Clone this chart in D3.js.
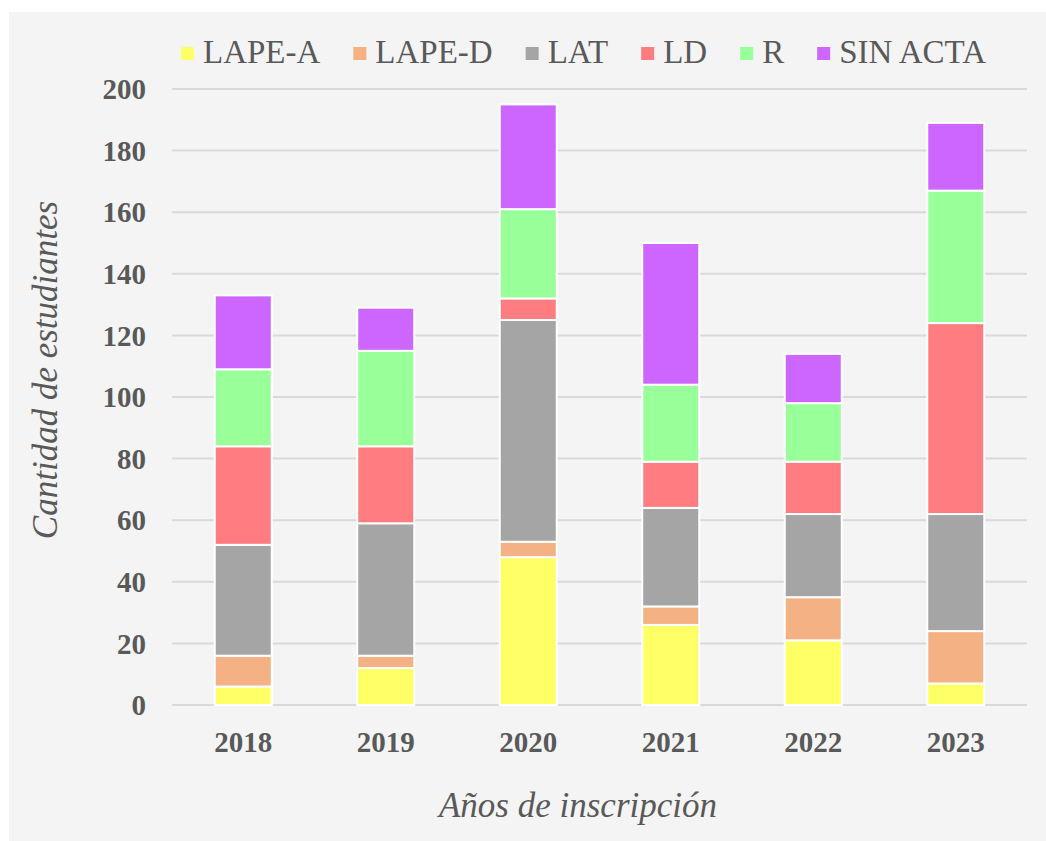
<!DOCTYPE html>
<html>
<head>
<meta charset="utf-8">
<script src="https://cdn.jsdelivr.net/npm/d3@7"></script>
<style>
  html, body { margin: 0; padding: 0; background: #ffffff; }
  svg { display: block; }
</style>
</head>
<body>
<svg id="chart"></svg>
<script>
const width = 1046;
const height = 841;

// Datos
const years = ["2018", "2019", "2020", "2021", "2022", "2023"];
const series = ["LAPE-A", "LAPE-D", "LAT", "LD", "R", "SIN ACTA"];
const colors = ["#ffff66", "#f4b183", "#a5a5a5", "#ff7c80", "#99ff99", "#cc66ff"];
const lapeA   = [6, 12, 48, 26, 21, 7];
const lapeD   = [10, 4, 5, 6, 14, 17];
const lat     = [36, 43, 72, 32, 27, 38];
const ld      = [32, 25, 7, 15, 17, 62];
const r       = [25, 31, 29, 25, 19, 43];
const sinActa = [24, 14, 34, 46, 16, 22];
const yTicks = [0, 20, 40, 60, 80, 100, 120, 140, 160, 180, 200];

const values = [lapeA, lapeD, lat, ld, r, sinActa];
const rows = years.map((y, i) => {
  const row = { year: y };
  series.forEach((s, k) => { row[s] = values[k][i]; });
  return row;
});

const textColor = "#595959";
const serif = "'Liberation Serif', 'Times New Roman', serif";

const svg = d3.select("#chart")
  .attr("width", width)
  .attr("height", height);

// Fondo del área del gráfico
svg.append("rect")
  .attr("x", 9).attr("y", 12)
  .attr("width", width - 9).attr("height", height - 12)
  .attr("fill", "#f4f4f4");

const margin = { left: 172, right: 1027, top: 89, bottom: 705 };

const x = d3.scaleBand()
  .domain(years)
  .range([margin.left, margin.right])
  .paddingInner(0.6)
  .paddingOuter(0.3);

const y = d3.scaleLinear()
  .domain([0, 200])
  .range([margin.bottom, margin.top]);

// Líneas de cuadrícula
svg.append("g")
  .selectAll("line")
  .data(yTicks)
  .join("line")
  .attr("x1", margin.left)
  .attr("x2", margin.right)
  .attr("y1", d => y(d))
  .attr("y2", d => y(d))
  .attr("stroke", "#d9d9d9")
  .attr("stroke-width", 2);

// Etiquetas del eje Y
svg.append("g")
  .selectAll("text")
  .data(yTicks)
  .join("text")
  .attr("x", 146)
  .attr("y", d => y(d))
  .attr("dy", "0.35em")
  .attr("text-anchor", "end")
  .attr("font-family", serif)
  .attr("font-weight", "bold")
  .attr("font-size", 29)
  .attr("fill", textColor)
  .text(d => d);

// Barras apiladas
const stacked = d3.stack().keys(series)(rows);

svg.append("g")
  .selectAll("g")
  .data(stacked)
  .join("g")
  .attr("fill", (d, i) => colors[i])
  .selectAll("rect")
  .data(d => d)
  .join("rect")
  .attr("x", d => x(d.data.year))
  .attr("width", x.bandwidth())
  .attr("y", d => y(d[1]))
  .attr("height", d => y(d[0]) - y(d[1]))
  .attr("stroke", "#ffffff")
  .attr("stroke-width", 2);

// Etiquetas del eje X
svg.append("g")
  .selectAll("text")
  .data(years)
  .join("text")
  .attr("x", d => x(d) + x.bandwidth() / 2)
  .attr("y", 752)
  .attr("text-anchor", "middle")
  .attr("font-family", serif)
  .attr("font-weight", "bold")
  .attr("font-size", 29)
  .attr("fill", textColor)
  .text(d => d);

// Títulos de los ejes
svg.append("text")
  .attr("x", 578)
  .attr("y", 817)
  .attr("text-anchor", "middle")
  .attr("font-family", serif)
  .attr("font-style", "italic")
  .attr("font-size", 35)
  .attr("fill", textColor)
  .text("Años de inscripción");

svg.append("text")
  .attr("transform", "translate(57,370) rotate(-90)")
  .attr("text-anchor", "middle")
  .attr("font-family", serif)
  .attr("font-style", "italic")
  .attr("font-size", 35)
  .attr("fill", textColor)
  .text("Cantidad de estudiantes");

// Leyenda
const legend = svg.append("g");
let lx = 181;
series.forEach((s, i) => {
  legend.append("rect")
    .attr("x", lx).attr("y", 47)
    .attr("width", 13).attr("height", 13)
    .attr("fill", colors[i]);
  const t = legend.append("text")
    .attr("x", lx + 22)
    .attr("y", 63)
    .attr("font-family", serif)
    .attr("font-size", 33)
    .attr("fill", textColor)
    .text(s);
  lx += 22 + t.node().getComputedTextLength() + 33;
});
</script>
</body>
</html>
